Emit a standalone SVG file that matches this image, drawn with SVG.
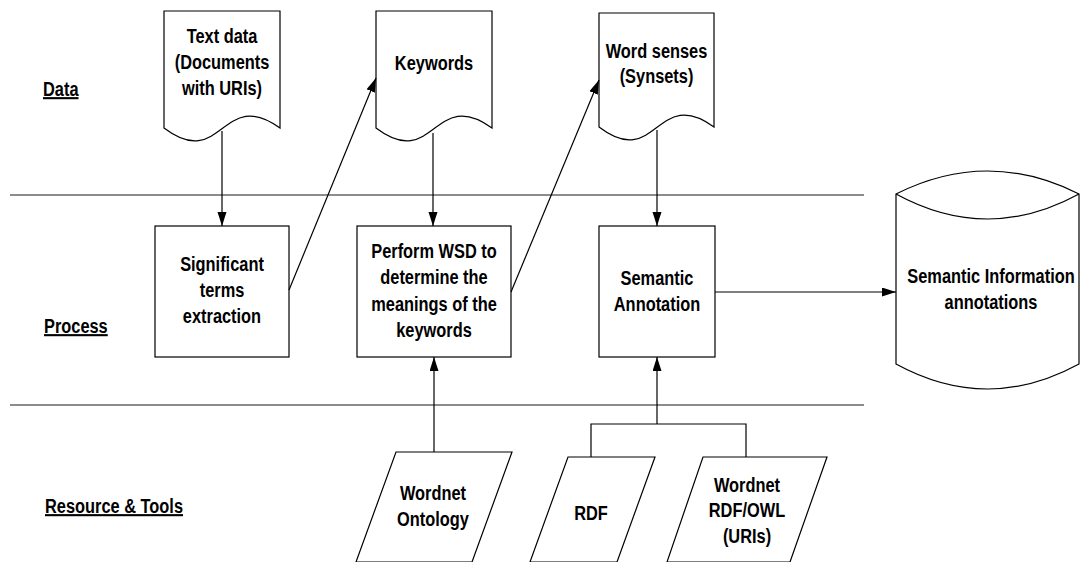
<svg xmlns="http://www.w3.org/2000/svg" width="1081" height="562" viewBox="0 0 1081 562">
<style>
text{font-family:"Liberation Sans",Arial,sans-serif;font-weight:bold;font-size:21px;fill:#000;text-anchor:middle}
.lbl{text-anchor:start;text-decoration:underline}
.shape{fill:#fff;stroke:#000;stroke-width:1.2}
.lane{stroke:#666;stroke-width:1.5;fill:none}
.conn{stroke:#000;stroke-width:1.2;fill:none}
</style>
<defs>
<marker id="ah" markerUnits="userSpaceOnUse" markerWidth="14" markerHeight="10" refX="14" refY="4.5" orient="auto">
<path d="M0,0 L14,4.5 L0,9 z" fill="#000"/>
</marker>
</defs>
<g id="lanes">
<line class="lane" x1="10" y1="195" x2="864" y2="195"/>
<line class="lane" x1="10" y1="405" x2="864" y2="405"/>
<text class="lbl" transform="translate(43,96) scale(0.78,1)">Data</text>
<text class="lbl" transform="translate(44,333) scale(0.78,1)">Process</text>
<text class="lbl" transform="translate(45,513) scale(0.78,1)">Resource &amp; Tools</text>
</g>
<g id="doc-text-data">
<path class="shape" d="M164,11 H280 V128 C222,86 222,172 164,128 Z"/>
<text transform="translate(222,43) scale(0.78,1)">Text data</text>
<text transform="translate(222,69) scale(0.78,1)">(Documents</text>
<text transform="translate(222,95) scale(0.78,1)">with URIs)</text>
</g>
<g id="doc-keywords">
<path class="shape" d="M376,11 H492 V128 C434,86 434,172 376,128 Z"/>
<text transform="translate(434,70) scale(0.78,1)">Keywords</text>
</g>
<g id="doc-word-senses">
<path class="shape" d="M599,13 H714 V127 C656.5,85 656.5,171 599,127 Z"/>
<text transform="translate(656.5,58) scale(0.78,1)">Word senses</text>
<text transform="translate(656.5,83) scale(0.78,1)">(Synsets)</text>
</g>
<g id="proc-significant">
<rect class="shape" x="155" y="226" width="134" height="131"/>
<text transform="translate(222,271) scale(0.78,1)">Significant</text>
<text transform="translate(222,297) scale(0.78,1)">terms</text>
<text transform="translate(222,323) scale(0.78,1)">extraction</text>
</g>
<g id="proc-wsd">
<rect class="shape" x="357" y="226" width="154" height="131"/>
<text transform="translate(434,258) scale(0.78,1)">Perform WSD to</text>
<text transform="translate(434,284) scale(0.78,1)">determine the</text>
<text transform="translate(434,311) scale(0.78,1)">meanings of the</text>
<text transform="translate(434,337) scale(0.78,1)">keywords</text>
</g>
<g id="proc-semantic">
<rect class="shape" x="599" y="226" width="116" height="131"/>
<text transform="translate(657,285) scale(0.78,1)">Semantic</text>
<text transform="translate(657,311) scale(0.78,1)">Annotation</text>
</g>
<g id="store-semantic-info">
<path class="shape" d="M896,194 Q987.5,148 1079,194 V364 Q987.5,414 896,364 Z"/>
<path class="shape" d="M896,194 Q987.5,244 1079,194" fill="none"/>
<text transform="translate(991,283) scale(0.78,1)">Semantic Information</text>
<text transform="translate(991,309) scale(0.78,1)">annotations</text>
</g>
<g id="res-wordnet-ontology">
<path class="shape" d="M396,452 H512 L472,562 H356 Z"/>
<text transform="translate(433,500) scale(0.78,1)">Wordnet</text>
<text transform="translate(433,526) scale(0.78,1)">Ontology</text>
</g>
<g id="res-rdf">
<path class="shape" d="M568,457 H655 L617,562 H530 Z"/>
<text transform="translate(591,520) scale(0.78,1)">RDF</text>
</g>
<g id="res-wordnet-rdf-owl">
<path class="shape" d="M703,457 H827 L790,562 H667 Z"/>
<text transform="translate(747,492) scale(0.78,1)">Wordnet</text>
<text transform="translate(747,517) scale(0.78,1)">RDF/OWL</text>
<text transform="translate(747,543) scale(0.78,1)">(URIs)</text>
</g>
<g id="connectors">
<line class="conn" x1="222" y1="131" x2="222" y2="226" marker-end="url(#ah)"/>
<line class="conn" x1="289" y1="290" x2="376" y2="78" marker-end="url(#ah)"/>
<line class="conn" x1="433" y1="133" x2="433" y2="226" marker-end="url(#ah)"/>
<line class="conn" x1="511" y1="292" x2="599" y2="80" marker-end="url(#ah)"/>
<line class="conn" x1="657" y1="130" x2="657" y2="226" marker-end="url(#ah)"/>
<line class="conn" x1="434" y1="452" x2="434" y2="357" marker-end="url(#ah)"/>
<polyline class="conn" points="591,457 591,424 746,424 746,457"/>
<line class="conn" x1="657" y1="424" x2="657" y2="357" marker-end="url(#ah)"/>
<line class="conn" x1="715" y1="292" x2="896" y2="292" marker-end="url(#ah)"/>
</g>
</svg>
